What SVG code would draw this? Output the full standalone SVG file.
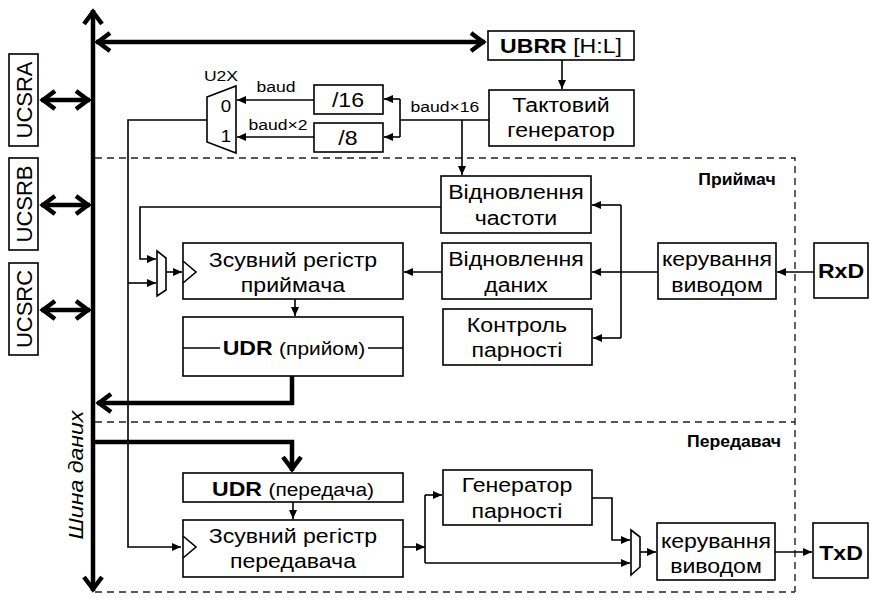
<svg xmlns="http://www.w3.org/2000/svg" width="870" height="598" viewBox="0 0 870 598">
<style>
text{font-family:"Liberation Sans",Arial,sans-serif;fill:#000}
.t{font-size:21px;text-anchor:middle;transform:scaleX(1.1);transform-box:fill-box;transform-origin:center}
.s{font-size:15px;text-anchor:middle;transform:scaleX(1.17);transform-box:fill-box;transform-origin:center}
.g{font-size:16px;font-weight:bold;text-anchor:middle;transform:scaleX(1.1);transform-box:fill-box;transform-origin:center}
.r{font-size:22px;text-anchor:middle}
.b{font-weight:bold}
.p{font-size:19px}
.box{fill:#fff;stroke:#000;stroke-width:1.6}
.ln{fill:none;stroke:#000;stroke-width:1.6}
.ar{marker-end:url(#a)}
.th{fill:none;stroke:#000;stroke-width:4.5}
.ce{marker-end:url(#c)}
.cs{marker-start:url(#c)}
.dash{fill:none;stroke:#222;stroke-width:1.4;stroke-dasharray:7 5}
</style>
<defs>
<marker id="a" viewBox="-10 -5 11 10" markerWidth="11" markerHeight="10" refX="0" refY="0" orient="auto" markerUnits="userSpaceOnUse">
<path d="M-9,-4 L0,0 L-9,4 Z" fill="#000"/>
</marker>
<marker id="c" viewBox="-18 -12 22 24" markerWidth="22" markerHeight="24" refX="0" refY="0" orient="auto-start-reverse" markerUnits="userSpaceOnUse">
<path d="M-14,-9 L-2,0 L-14,9" fill="none" stroke="#000" stroke-width="4.5"/>
</marker>
</defs>
<rect width="870" height="598" fill="#fff"/>

<g id="regions">
<path class="dash" d="M95,158 H795 V592 M95,422 H795 M95,592 H795"/>
<text class="g" x="737" y="185">Приймач</text>
<text class="g" x="734" y="447">Передавач</text>
</g>

<g id="connectors">
<line class="th cs ce" x1="93" y1="10" x2="93" y2="591"/>
<line class="th cs ce" x1="96" y1="42" x2="485" y2="42"/>
<line class="th cs ce" x1="41" y1="100" x2="90" y2="100"/>
<line class="th cs ce" x1="41" y1="205" x2="90" y2="205"/>
<line class="th cs ce" x1="41" y1="310" x2="90" y2="310"/>
<path class="th ce" d="M292,376 V403 H97"/>
<path class="th ce" d="M91,442 H292 V471"/>
<line class="ln ar" x1="562" y1="60" x2="562" y2="89"/>
<path class="ln" d="M489,120 H400 M400,99 V137"/>
<line class="ln ar" x1="400" y1="99" x2="384" y2="99"/>
<line class="ln ar" x1="400" y1="137" x2="384" y2="137"/>
<line class="ln ar" x1="462" y1="120" x2="462" y2="175"/>
<line class="ln ar" x1="314" y1="100" x2="237" y2="100"/>
<line class="ln ar" x1="314" y1="137" x2="237" y2="137"/>
<path class="ln ar" d="M207,120 H128 V547 H181"/>
<line class="ln ar" x1="128" y1="283" x2="156" y2="283"/>
<path class="ln ar" d="M441,207 H140 V259 H156"/>
<line class="ln ar" x1="166" y1="272" x2="182" y2="272"/>
<line class="ln ar" x1="442" y1="272" x2="404" y2="272"/>
<line class="ln ar" x1="295" y1="299" x2="295" y2="316"/>
<path class="ln" d="M658,272 H621 M621,205 V338"/>
<line class="ln ar" x1="621" y1="205" x2="592" y2="205"/>
<line class="ln ar" x1="621" y1="272" x2="592" y2="272"/>
<line class="ln ar" x1="621" y1="338" x2="593" y2="338"/>
<line class="ln ar" x1="814" y1="272" x2="777" y2="272"/>
<line class="ln ar" x1="293" y1="502" x2="293" y2="519"/>
<line class="ln ar" x1="403" y1="547" x2="425" y2="547"/>
<path class="ln" d="M425,495 V563"/>
<line class="ln ar" x1="425" y1="495" x2="442" y2="495"/>
<line class="ln ar" x1="425" y1="563" x2="630" y2="563"/>
<path class="ln ar" d="M592,498 H612 V540 H630"/>
<line class="ln ar" x1="640" y1="552" x2="656" y2="552"/>
<line class="ln ar" x1="775" y1="552" x2="812" y2="552"/>
</g>

<g id="ucsra"><rect class="box" x="9" y="54" width="29" height="92"/><g transform="translate(32,100) rotate(-90)"><text class="r" x="0" y="0">UCSRA</text></g></g>
<g id="ucsrb"><rect class="box" x="9" y="158" width="29" height="92"/><g transform="translate(32,204) rotate(-90)"><text class="r" x="0" y="0">UCSRB</text></g></g>
<g id="ucsrc"><rect class="box" x="9" y="263" width="29" height="92"/><g transform="translate(32,309) rotate(-90)"><text class="r" x="0" y="0">UCSRC</text></g></g>
<g id="bus-label"><g transform="translate(83,475) rotate(-90)"><text class="t" x="0" y="0" font-style="italic">Шина даних</text></g></g>

<g id="ubrr"><rect class="box" x="488" y="31" width="146" height="29"/><text class="t" x="561" y="53"><tspan class="b">UBRR</tspan> [H:L]</text></g>
<g id="clockgen"><rect class="box" x="489" y="90" width="145" height="56"/><text class="t" x="561" y="112">Тактовий</text><text class="t" x="561" y="137">генератор</text></g>
<g id="div16"><rect class="box" x="314" y="85" width="69" height="29"/><text class="t" x="348" y="107">/16</text></g>
<g id="div8"><rect class="box" x="314" y="123" width="69" height="29"/><text class="t" x="348" y="145">/8</text></g>
<g id="mux-u2x">
<polygon class="box" points="207,97 236,86 236,153 207,142"/>
<text class="s" x="221" y="81">U2X</text>
<text class="s" x="226" y="112" style="font-size:16px">0</text>
<text class="s" x="226" y="142" style="font-size:16px">1</text>
<text class="s" x="276" y="92">baud</text>
<text class="s" x="278" y="130">baud×2</text>
<text class="s" x="445" y="112">baud×16</text>
</g>

<g id="freq-rec"><rect class="box" x="441" y="176" width="150" height="57"/><text class="t" x="516" y="199">Відновлення</text><text class="t" x="516" y="225">частоти</text></g>
<g id="data-rec"><rect class="box" x="442" y="243" width="149" height="56"/><text class="t" x="516" y="266">Відновлення</text><text class="t" x="516" y="292">даних</text></g>
<g id="parity-chk"><rect class="box" x="443" y="309" width="149" height="56"/><text class="t" x="517" y="332">Контроль</text><text class="t" x="517" y="357">парності</text></g>
<g id="rx-pin"><rect class="box" x="658" y="243" width="118" height="56"/><text class="t" x="717" y="266">керування</text><text class="t" x="717" y="292">виводом</text></g>
<g id="rxd"><rect class="box" x="814" y="243" width="54" height="55"/><text class="t b" x="841" y="278">RxD</text></g>
<g id="rx-mux"><polygon class="box" points="157,251 166,258 166,290 157,296"/></g>
<g id="rx-shift"><rect class="box" x="183" y="243" width="220" height="56"/><polyline class="ln" points="183,261 196,272 183,283"/><text class="t" x="293" y="267">Зсувний регістр</text><text class="t" x="293" y="292">приймача</text></g>
<g id="udr-rx"><rect class="box" x="183" y="317" width="220" height="59"/><path class="ln" d="M183,348 H220 M368,348 H403"/><text class="t" x="294" y="355"><tspan class="b">UDR</tspan> <tspan class="p">(прийом)</tspan></text></g>

<g id="udr-tx"><rect class="box" x="183" y="473" width="220" height="29"/><text class="t" x="293" y="496"><tspan class="b">UDR</tspan> <tspan class="p">(передача)</tspan></text></g>
<g id="tx-shift"><rect class="box" x="183" y="520" width="220" height="57"/><polyline class="ln" points="183,536 196,547 183,558"/><text class="t" x="293" y="543">Зсувний регістр</text><text class="t" x="293" y="568">передавача</text></g>
<g id="parity-gen"><rect class="box" x="443" y="470" width="149" height="55"/><text class="t" x="517" y="492">Генератор</text><text class="t" x="517" y="518">парності</text></g>
<g id="tx-mux"><polygon class="box" points="631,530 640,537 640,567 631,575"/></g>
<g id="tx-pin"><rect class="box" x="657" y="523" width="118" height="57"/><text class="t" x="716" y="548">керування</text><text class="t" x="716" y="573">виводом</text></g>
<g id="txd"><rect class="box" x="813" y="523" width="55" height="55"/><text class="t b" x="841" y="560">TxD</text></g>
</svg>
